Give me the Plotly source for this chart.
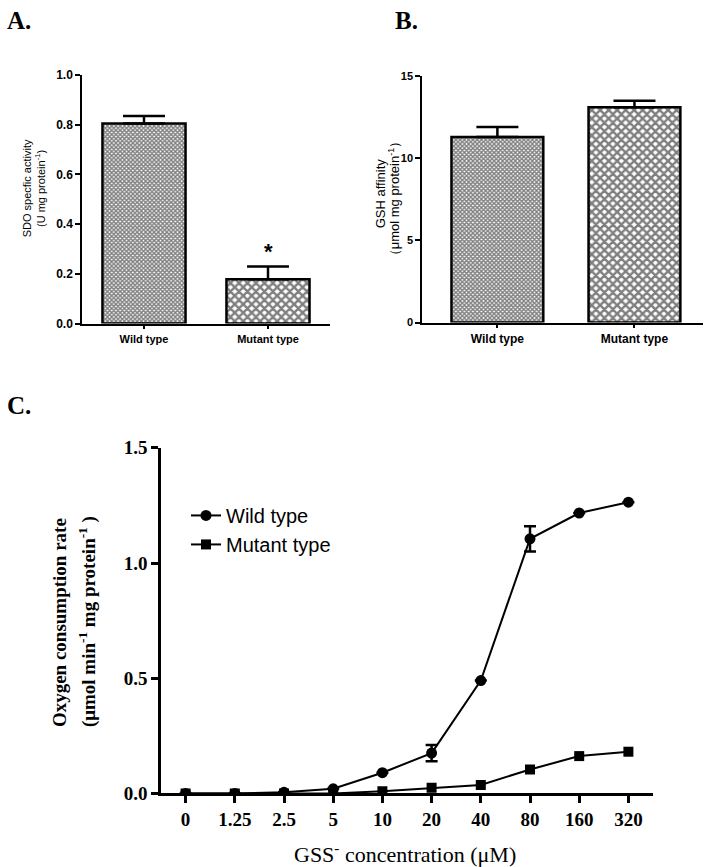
import plotly.graph_objects as go

# ---------------- data ----------------
groups = ["Wild type", "Mutant type"]
sdo_activity = [0.805, 0.178]
sdo_err = [0.030, 0.052]
gsh_affinity = [11.3, 13.1]
gsh_err = [0.6, 0.4]

conc_labels = ["0", "1.25", "2.5", "5", "10", "20", "40", "80", "160", "320"]
wild_rate = [0.0, 0.0, 0.005, 0.02, 0.09, 0.175, 0.49, 1.105, 1.217, 1.264]
wild_err = [0, 0, 0, 0, 0, 0.035, 0, 0.055, 0, 0]
mutant_rate = [0.0, 0.0, 0.0, 0.0, 0.01, 0.025, 0.037, 0.104, 0.162, 0.181]

ARIAL = "Arial, Liberation Sans, sans-serif"
TIMES = "Times New Roman, Liberation Serif, serif"
W, H = 707, 867

def px_x(p):
    return p / W

def px_y(p):
    # vertical placement tuned against the captured picture
    q = (p - 12) / 0.974
    return 1 - q / H

def clamp(v):
    return max(0.0, min(1.0, v))

fig = go.Figure()

bar_marker = dict(color="white", line=dict(color="black", width=2.5),
                  pattern=dict(shape=["x", "x"], fgcolor="black", bgcolor="white",
                               size=[3, 6], solidity=[0.7, 0.65]))

# Panel A bars
fig.add_trace(go.Bar(
    x=groups, y=sdo_activity, xaxis="x", yaxis="y", width=0.67,
    marker=bar_marker,
    error_y=dict(type="data", symmetric=False, array=sdo_err, arrayminus=[0, 0],
                 color="black", thickness=2.5, width=21),
    showlegend=False,
))

# Panel B bars
fig.add_trace(go.Bar(
    x=groups, y=gsh_affinity, xaxis="x2", yaxis="y2", width=0.67,
    marker=bar_marker,
    error_y=dict(type="data", symmetric=False, array=gsh_err, arrayminus=[0, 0],
                 color="black", thickness=2.5, width=21),
    showlegend=False,
))

# Panel C lines
fig.add_trace(go.Scatter(
    x=conc_labels, y=wild_rate, xaxis="x3", yaxis="y3", name="Wild type",
    mode="lines+markers", line=dict(color="black", width=2),
    marker=dict(symbol="circle", size=11, color="black"),
    error_y=dict(type="data", array=wild_err, color="black", thickness=2.5, width=6),
))
fig.add_trace(go.Scatter(
    x=conc_labels, y=mutant_rate, xaxis="x3", yaxis="y3", name="Mutant type",
    mode="lines+markers", line=dict(color="black", width=2),
    marker=dict(symbol="square", size=10, color="black"),
))

def bar_x(size):
    return dict(showline=True, linecolor="black", linewidth=1.5, ticks="outside",
                ticklen=4, tickwidth=1.5, tickcolor="black", showgrid=False,
                zeroline=False,
                tickfont=dict(family=ARIAL, size=size, color="black", weight="bold"))

def bar_y(size):
    return dict(showline=True, linecolor="black", linewidth=1.5, ticks="outside",
                ticklen=5, tickwidth=1.5, tickcolor="black", showgrid=False,
                zeroline=False,
                tickfont=dict(family=ARIAL, size=size, color="black", weight="bold"))

fig.update_layout(
    width=W, height=H, margin=dict(l=0, r=0, t=0, b=0),
    paper_bgcolor="white", plot_bgcolor="white",
    xaxis=dict(domain=[clamp(px_x(82)), clamp(px_x(330))], anchor="y", range=[-0.5, 1.5],
               **bar_x(11)),
    yaxis=dict(domain=[clamp(px_y(325)), clamp(px_y(77))], anchor="x", range=[0, 1.0],
               tickvals=[0, 0.2, 0.4, 0.6, 0.8, 1.0],
               ticktext=["0.0", "0.2", "0.4", "0.6", "0.8", "1.0"], **bar_y(12)),
    xaxis2=dict(domain=[clamp(px_x(422)), clamp(px_x(703))], anchor="y2",
                range=[-0.55, 1.5], **bar_x(12)),
    yaxis2=dict(domain=[clamp(px_y(324)), clamp(px_y(78))], anchor="x2", range=[0, 15],
                tickvals=[0, 5, 10, 15], **bar_y(11)),
    xaxis3=dict(domain=[clamp(px_x(161)), clamp(px_x(653))], anchor="y3", type="category",
                categoryorder="array", categoryarray=conc_labels, range=[-0.5, 9.5],
                showline=True, linecolor="black", linewidth=2.5, ticks="outside",
                ticklen=7, tickwidth=2.5, tickcolor="black", showgrid=False,
                zeroline=False,
                tickfont=dict(family=TIMES, size=19, color="black", weight="bold")),
    yaxis3=dict(domain=[clamp(px_y(794)), clamp(px_y(449))], anchor="x3", range=[0, 1.5],
                tickvals=[0, 0.5, 1.0, 1.5], ticktext=["0.0", "0.5", "1.0", "1.5"],
                showline=True, linecolor="black", linewidth=2.5, ticks="outside",
                ticklen=7, tickwidth=2.5, tickcolor="black", showgrid=False,
                zeroline=False,
                tickfont=dict(family=TIMES, size=19, color="black", weight="bold")),
    legend=dict(x=px_x(186), y=1 - 498 / H, xanchor="left", yanchor="top",
                bgcolor="rgba(0,0,0,0)", tracegroupgap=0,
                font=dict(family=ARIAL, size=20, color="black")),
)

annotations = [
    # panel labels
    dict(text="<b>A.</b>", x=px_x(5), y=1 - 11 / H, xanchor="left", yanchor="middle",
         font=dict(family=TIMES, size=25, color="black")),
    dict(text="<b>B.</b>", x=px_x(393), y=1 - 11 / H, xanchor="left", yanchor="middle",
         font=dict(family=TIMES, size=25, color="black")),
    dict(text="<b>C.</b>", x=px_x(5), y=px_y(407), xanchor="left", yanchor="middle",
         font=dict(family=TIMES, size=25, color="black")),
    # axis titles
    dict(text="SDO specfic activity<br>(U mg protein<sup>-1</sup>)", x=px_x(34), y=px_y(190),
         textangle=-90, xanchor="center", yanchor="middle",
         font=dict(family=ARIAL, size=11, color="black")),
    dict(text="GSH affinity", x=px_x(380), y=px_y(195),
         textangle=-90, xanchor="center", yanchor="middle",
         font=dict(family=ARIAL, size=13, color="black")),
    dict(text="（μmol mg protein<sup>-1</sup>）", x=px_x(394), y=px_y(200),
         textangle=-90, xanchor="center", yanchor="middle",
         font=dict(family=ARIAL, size=13, color="black")),
    dict(text="<b>Oxygen consumption rate</b>",
         x=px_x(59), y=px_y(623), textangle=-90, xanchor="center", yanchor="middle",
         font=dict(family=TIMES, size=19, color="black")),
    dict(text="<b>(μmol min<sup>-1</sup> mg protein<sup>-1</sup> )</b>",
         x=px_x(87), y=px_y(623), textangle=-90, xanchor="center", yanchor="middle",
         font=dict(family=TIMES, size=19, color="black")),
    dict(text="GSS<sup>-</sup> concentration (μM)", x=px_x(405), y=clamp(px_y(853)),
         xanchor="center", yanchor="middle",
         font=dict(family=TIMES, size=22, color="black")),
    # significance star
    dict(text="<b>*</b>", x="Mutant type", y=0.29, xref="x", yref="y",
         xanchor="center", yanchor="middle",
         font=dict(family=ARIAL, size=22, color="black")),
]
for a in annotations:
    a.setdefault("xref", "paper")
    a.setdefault("yref", "paper")
    a["showarrow"] = False
    fig.add_annotation(**a)

# remove the default page margin so the 707x867 figure fills the window exactly
fig.write_html("out.html", config={"displayModeBar": False},
               post_script="document.body.style.margin='0';")
